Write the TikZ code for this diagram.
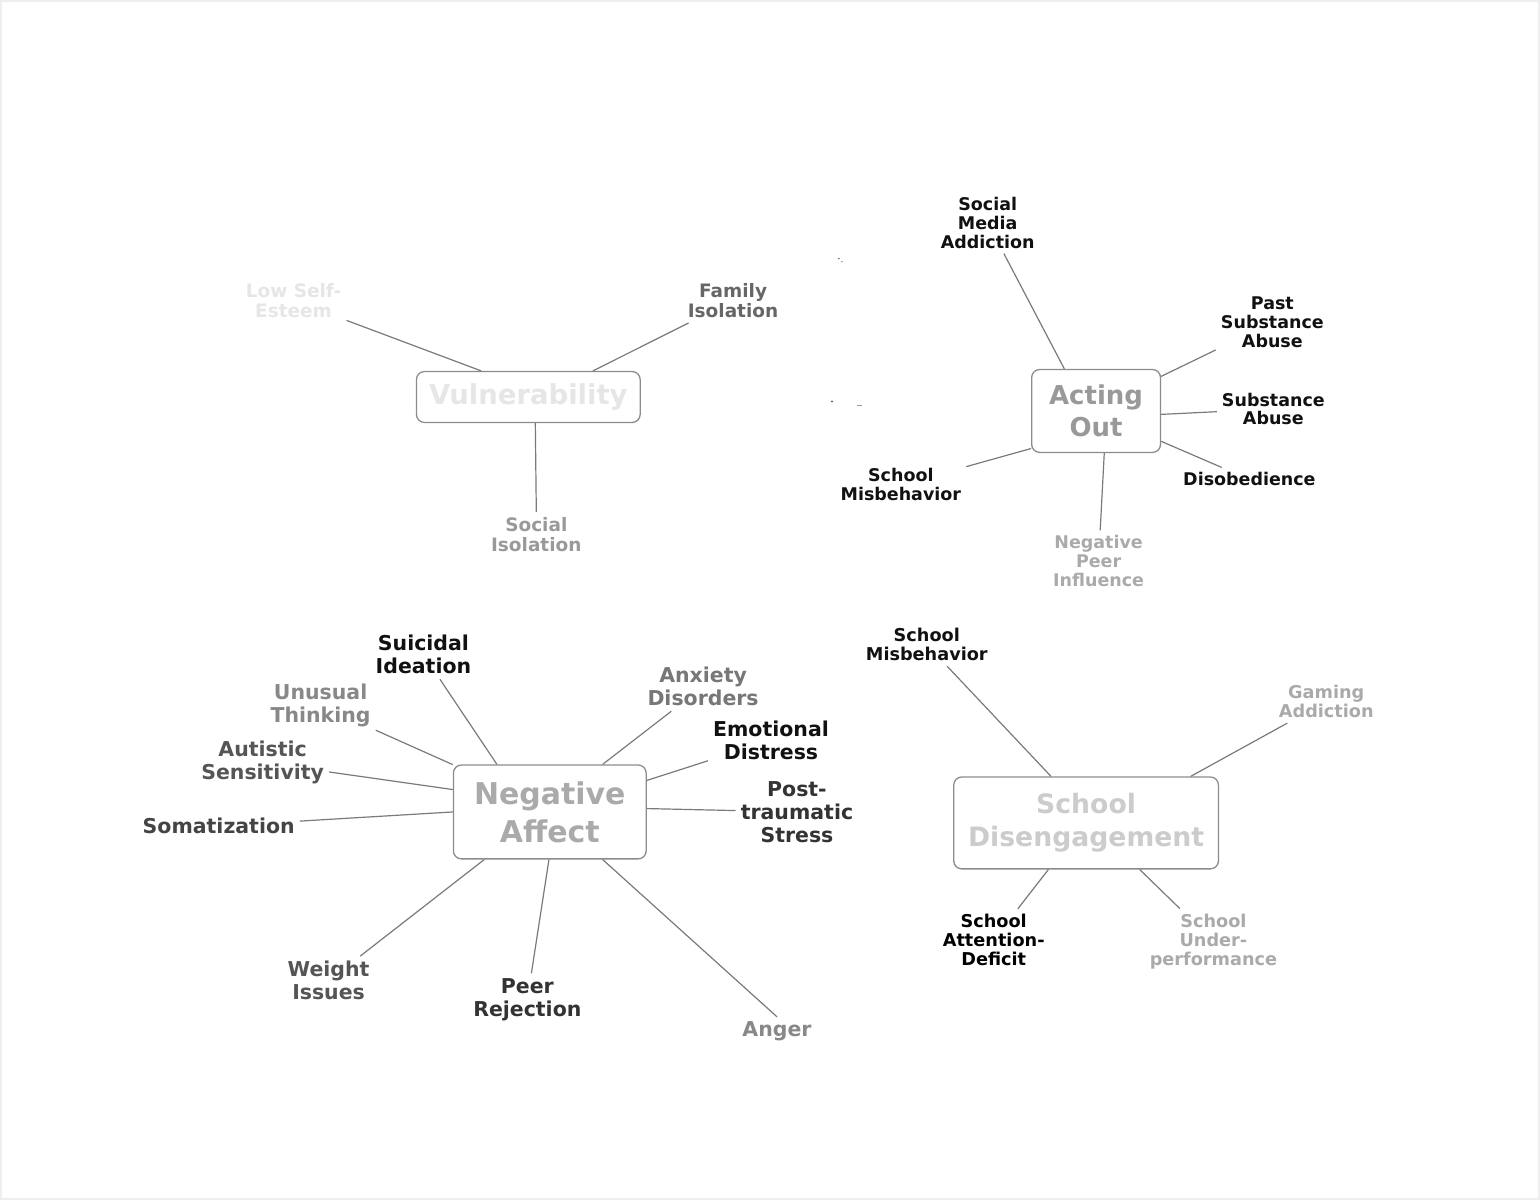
\documentclass[tikz,border=0pt]{standalone}
\usepackage{fontspec}
\setmainfont{DejaVu Sans}
\definecolor{linegray}{HTML}{7A7A7A}
\definecolor{boxgray}{HTML}{8C8C8C}
\definecolor{framegray}{HTML}{EEEEEE}
\definecolor{c11}{HTML}{111111}
\definecolor{c33}{HTML}{333333}
\definecolor{c44}{HTML}{444444}
\definecolor{c55}{HTML}{555555}
\definecolor{c66}{HTML}{666666}
\definecolor{c77}{HTML}{777777}
\definecolor{c88}{HTML}{888888}
\definecolor{c99}{HTML}{999999}
\definecolor{cAA}{HTML}{AAAAAA}
\definecolor{cCC}{HTML}{CCCCCC}
\definecolor{cE6}{HTML}{E6E6E6}
\begin{document}
\begin{tikzpicture}[x=1pt,y=-1pt,
  conn/.style={draw=linegray, line width=1.2pt},
  lbl/.style={align=center, inner sep=5pt},
  vlab/.style={lbl, font=\bfseries\fontsize{18.5}{20}\selectfont},
  alab/.style={lbl, font=\bfseries\fontsize{17.5}{19}\selectfont},
  nlab/.style={lbl, font=\bfseries\fontsize{20.5}{23}\selectfont},
  slab/.style={lbl, font=\bfseries\fontsize{17.7}{19}\selectfont},
  hub/.style={draw=boxgray, line width=1.3pt, rounded corners=8pt, align=center, inner sep=0pt},
  speck/.style={fill=c66, draw=none}
]
\path[use as bounding box, draw=framegray, fill=white, line width=2pt] (0,0) rectangle (1540,1200);

% ---------- Vulnerability ----------
\node[hub, minimum width=224pt, minimum height=51pt, text=cE6,
      font=\bfseries\fontsize{27.5}{30}\selectfont] (vul) at (528,396.5) {Vulnerability};
\node[vlab, text=cE6] (lse) at (293,300) {Low Self-\\Esteem};
\node[vlab, text=c66] (fi) at (733,300) {Family\\Isolation};
\node[vlab, text=c99] (si) at (536,534) {Social\\Isolation};
\draw[conn] (lse) -- (vul.151);
\draw[conn] (fi) -- (vul.22);
\draw[conn] (si.north) -- (vul.285.4);

% ---------- Acting Out ----------
\node[hub, minimum width=129pt, minimum height=83pt, text=c99,
      font=\bfseries\fontsize{26}{32}\selectfont] (ao) at (1096.5,410.5) {Acting\\Out};
\node[alab, text=c11] (sma) at (988,222) {Social\\Media\\Addiction};
\node[alab, text=c11] (psa) at (1273,322) {Past\\Substance\\Abuse};
\node[alab, text=c11] (sa) at (1274,408.5) {Substance\\Abuse};
\node[alab, text=c11] (dis) at (1250,479) {Disobedience};
\node[alab, text=cAA] (npi) at (1099,561) {Negative\\Peer\\Influence};
\node[alab, text=c11] (smb) at (901,484.5) {School\\Misbehavior};
\draw[conn] (sma) -- (ao.127);
\draw[conn] (psa) -- (ao.28);
\draw[conn] (sa) -- (ao.357);
\draw[conn] (dis) -- (ao.335);
\draw[conn] (npi) -- (ao.281);
\draw[conn] (smb) -- (ao.210.6);

% ---------- Negative Affect ----------
\node[hub, minimum width=193pt, minimum height=94pt, text=cAA,
      font=\bfseries\fontsize{30}{38}\selectfont] (na) at (549.5,812) {Negative\\Affect};
\node[nlab, text=c11] (sui) at (423,654.5) {Suicidal\\Ideation};
\node[nlab, text=c88] (unu) at (320,705.5) {Unusual\\Thinking};
\node[nlab, text=c55] (aut) at (262,762.5) {Autistic\\Sensitivity};
\node[nlab, text=c44] (som) at (218,826) {Somatization};
\node[nlab, text=c55] (wei) at (328,981) {Weight\\Issues};
\node[nlab, text=c33] (pee) at (527,1000) {Peer\\Rejection};
\node[nlab, text=c88] (ang) at (777,1032) {Anger};
\node[nlab, text=c77] (anx) at (703,686.5) {Anxiety\\Disorders};
\node[nlab, text=c11] (emo) at (771,740.5) {Emotional\\Distress};
\node[nlab, text=c33] (pts) at (797,812) {Post-\\traumatic\\Stress};
\draw[conn] (sui) -- (na.138);
\draw[conn] (unu) -- (na.154.5);
\draw[conn] (aut) -- (na.167.7);
\draw[conn] (som) -- (na.180);
\draw[conn] (wei) -- (na.216.2);
\draw[conn] (pee) -- (na.269.4);
\draw[conn] (ang.north) -- (na.318.6);
\draw[conn] (anx) -- (na.42.9);
\draw[conn] (emo) -- (na.18.7);
\draw[conn] (pts) -- (na.2.3);

% ---------- School Disengagement ----------
\node[hub, minimum width=265pt, minimum height=92pt, text=cCC,
      font=\bfseries\fontsize{26.7}{33}\selectfont] (sd) at (1086.5,823) {School\\Disengagement};
\node[slab, text=c11] (smb2) at (927,644.5) {School\\Misbehavior};
\node[slab, text=cAA] (gam) at (1327,701.5) {Gaming\\Addiction};
\node[slab, text=black] (sad) at (994,940) {School\\Attention-\\Deficit};
\node[slab, text=cAA] (sup) at (1214,941.5) {School\\Under-\\performance};
\draw[conn] (smb2) -- (sd.127.7);
\draw[conn] (gam) -- (sd.24.2);
\draw[conn] (sad) -- (sd.231.3);
\draw[conn] (sup) -- (sd.319.6);

% ---------- stray specks ----------
\fill[speck] (839,258) circle (0.9pt);
\fill[speck] (842,261) circle (0.7pt);
\fill[speck] (832,401) circle (1.1pt);
\fill[speck, fill=c99] (857,404.6) rectangle (862,405.6);
\end{tikzpicture}
\end{document}
